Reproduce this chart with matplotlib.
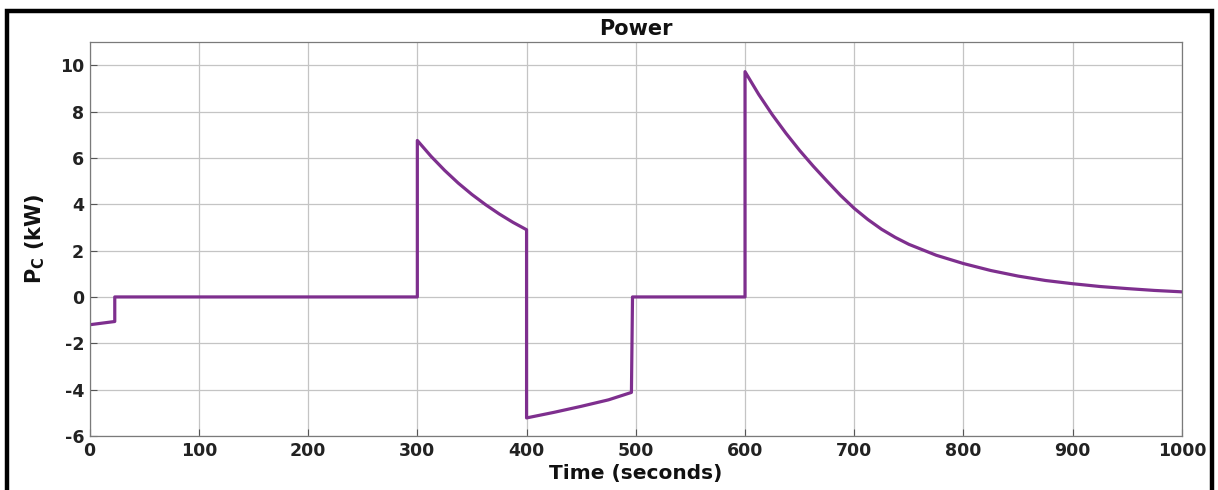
import matplotlib
matplotlib.use("Agg")
import matplotlib.pyplot as plt
from matplotlib.patches import Rectangle

plt.rcParams['font.family'] = ['DejaVu Sans']
plt.rcParams['axes.unicode_minus'] = False
plt.rcParams['mathtext.fontset'] = 'custom'
plt.rcParams['mathtext.rm'] = 'DejaVu Sans:bold'
plt.rcParams['mathtext.bf'] = 'DejaVu Sans:bold'
plt.rcParams['mathtext.it'] = 'DejaVu Sans:bold'

# ---- data (time in s, power in kW) ----
t_seg1 = [0, 23]
p_seg1 = [-1.20, -1.06]

t_seg2 = [23, 300]
p_seg2 = [0.0, 0.0]

t_seg3 = [300, 312.5, 325, 337.5, 350, 362.5, 375, 387.5, 400]
p_seg3 = [6.75, 6.07, 5.46, 4.91, 4.42, 3.98, 3.58, 3.22, 2.90]

t_seg4 = [400, 425, 450, 475, 496]
p_seg4 = [-5.22, -4.98, -4.72, -4.44, -4.12]

t_seg5 = [497, 600]
p_seg5 = [0.0, 0.0]

t_seg6 = [600, 612.5, 625, 637.5, 650, 662.5, 675, 687.5, 700, 712.5, 725,
          737.5, 750, 775, 800, 825, 850, 875, 900, 925, 950, 975, 1000]
p_seg6 = [9.72, 8.74, 7.86, 7.06, 6.32, 5.64, 5.00, 4.38, 3.82, 3.34, 2.92,
          2.57, 2.27, 1.80, 1.44, 1.14, 0.90, 0.71, 0.57, 0.45, 0.36, 0.28, 0.22]

x_ticks = [0, 100, 200, 300, 400, 500, 600, 700, 800, 900, 1000]
y_ticks = [-6, -4, -2, 0, 2, 4, 6, 8, 10]

time = t_seg1 + t_seg2 + t_seg3 + t_seg4 + t_seg5 + t_seg6
power = p_seg1 + p_seg2 + p_seg3 + p_seg4 + p_seg5 + p_seg6

fig = plt.figure(figsize=(12.18, 4.90), dpi=100)
ax = fig.add_axes([0.0736, 0.1102, 0.8968, 0.8041])

ax.plot(time, power, color='#7E2F8E', lw=2.3, solid_joinstyle='round')

ax.set_xlim(0, 1000)
ax.set_ylim(-6, 11)
ax.set_xticks(x_ticks)
ax.set_yticks(y_ticks)
ax.grid(True, color='#c4c4c4', lw=0.9)
ax.set_axisbelow(True)
for s in ax.spines.values():
    s.set_color('#7a7a7a')
    s.set_linewidth(0.9)
ax.tick_params(direction='in', length=5, width=0.8, color='#555555',
               labelsize=12.5, labelcolor='#222222', top=False, right=False)
for lbl in ax.get_xticklabels() + ax.get_yticklabels():
    lbl.set_fontweight('bold')
ax.tick_params(axis='x', pad=4)
ax.tick_params(axis='y', pad=4)

ax.set_title('Power', fontsize=15, fontweight='bold', color='#111111', pad=5)
ax.set_xlabel('Time (seconds)', fontsize=14.5, fontweight='bold', color='#111111', labelpad=3)
ax.set_ylabel(r'P$_{\mathrm{C}}$ (kW)', fontsize=15, fontweight='bold', color='#111111', labelpad=9)

# thick black frame around the figure
fig.add_artist(Rectangle((6.5 / 1218, -0.05), (1212 - 6.5) / 1218, 1.05 - 11.5 / 490,
                         transform=fig.transFigure, fill=False, edgecolor='black',
                         lw=3.2, clip_on=False))

fig.savefig('out.png', dpi=100)
